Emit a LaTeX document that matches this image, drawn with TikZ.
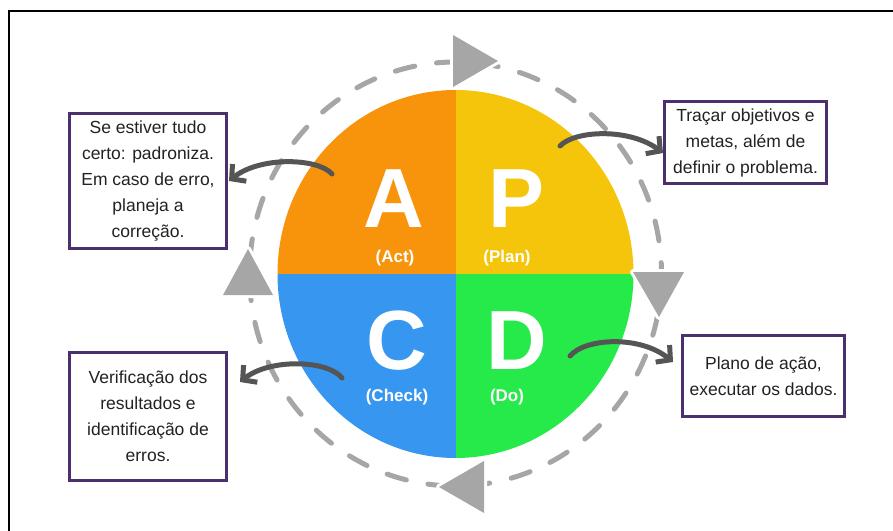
\documentclass[tikz,border=0pt]{standalone}
\usepackage{fontspec}
\setmainfont{Liberation Sans}
\usetikzlibrary{calc, arrows.meta}

\definecolor{actcolor}{RGB}{248,147,12}
\definecolor{plancolor}{RGB}{244,197,10}
\definecolor{checkcolor}{RGB}{55,151,240}
\definecolor{docolor}{RGB}{38,234,74}
\definecolor{ringgray}{RGB}{166,166,166}
\definecolor{arrowgray}{RGB}{85,85,85}
\definecolor{boxpurple}{RGB}{75,48,110}
\definecolor{textgray}{RGB}{34,34,34}

\begin{document}
\begin{tikzpicture}[x=1pt, y=-1pt,
  caixa/.style={draw=boxpurple, line width=3pt, fill=white, text=textgray,
    align=center, inner sep=0pt, font=\fontsize{17.5}{26}\selectfont},
  letra/.style={text=white, anchor=base, inner sep=0pt,
    font=\fontsize{84}{84}\selectfont\bfseries},
  fase/.style={text=white, anchor=base, inner sep=0pt,
    font=\fontsize{17}{20}\selectfont\bfseries},
  seta/.style={arrowgray, line width=5pt, line cap=round,
    -{Straight Barb[length=10pt, width=22pt]}},
  tri/.style={fill=ringgray, preaction={draw=white, line width=6pt, line join=round}}
]

\useasboundingbox (0,0) rectangle (893,530);

% moldura (so a esquerda e o topo aparecem)
\draw[line width=2pt] (9,540) -- (9,11) -- (900,11);

% centro do ciclo
\coordinate (O) at (455.5,274);

% os quatro quadrantes
\begin{scope}
  \clip (O) ellipse [x radius=178, y radius=184];
  \fill[actcolor]   (O) rectangle ++(-200,-200);
  \fill[plancolor]  (O) rectangle ++(200,-200);
  \fill[checkcolor] (O) rectangle ++(-200,200);
  \fill[docolor]    (O) rectangle ++(200,200);
\end{scope}

% anel tracejado
\draw[ringgray, line width=5pt, line cap=round, dash pattern=on 20pt off 22pt]
  (O) ellipse [x radius=206, y radius=212];

% setas triangulares do anel
\fill[tri] (453,35) -- (498,61) -- (453,87) -- cycle;
\fill[tri] (633,272) -- (684,272) -- (659,317) -- cycle;
\fill[tri] (484,461) -- (439,487) -- (484,513) -- cycle;
\fill[tri] (223,295) -- (248,249) -- (273,295) -- cycle;

% letras
\node[letra] (A) at (394,227) {A};
\node[letra] (P) at (517,227) {P};
\node[letra] (C) at (397,369) {C};
\node[letra] (D) at (517,369) {D};

\node[fase] (act)   at (395,262) {(Act)};
\node[fase] (plan)  at (507,262) {(Plan)};
\node[fase] (check) at (397,401) {(Check)};
\node[fase] (do)    at (507,401) {(Do)};

% caixas de texto
\node[caixa, minimum width=157pt, minimum height=135pt] (boxA) at (148,181)
  {Se estiver tudo\\certo: padroniza.\\Em caso de erro,\\planeja a\\correção.};
\node[caixa, minimum width=162pt, minimum height=82pt] (boxP) at (745.5,142.5)
  {Traçar objetivos e\\metas, além de\\definir o problema.};
\node[caixa, minimum width=157pt, minimum height=128pt] (boxC) at (148,416.5)
  {Verificação dos\\resultados e\\identificação de\\erros.};
\node[caixa, minimum width=162pt, minimum height=81pt] (boxD) at (763.5,376)
  {Plano de ação,\\executar os dados.};

% setas curvas
\coordinate (sA) at (332,174);
\coordinate (sP) at (560,146);
\coordinate (sC) at (342,378);
\coordinate (sD) at (570,356);

\draw[seta] (sA) .. controls (318,158) and (260,156) .. ([xshift=1pt]boxA.east);
\draw[seta] (sP) .. controls (575,130) and (630,128) .. ([yshift=-10.5pt]boxP.west);
\draw[seta] (sC) .. controls (328,360) and (270,358) .. ([xshift=12pt, yshift=34.5pt]boxC.east);
\draw[seta] (sD) .. controls (585,338) and (640,335) .. ([xshift=-8pt, yshift=14pt]boxD.west);

\end{tikzpicture}
\end{document}
